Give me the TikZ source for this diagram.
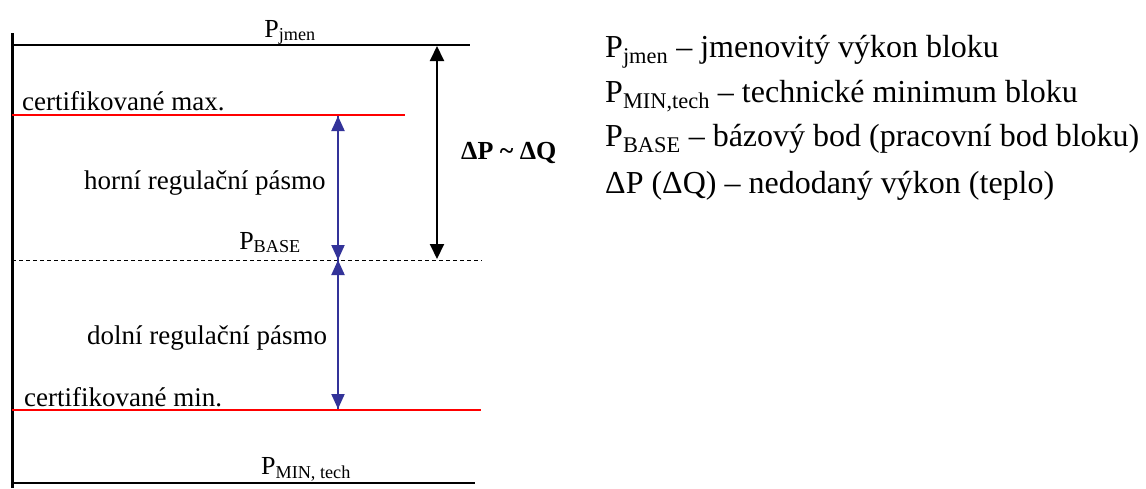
\documentclass[tikz,border=0pt]{standalone}
\usepackage{fontspec}
\setmainfont{Liberation Serif}
\usetikzlibrary{arrows.meta}
\definecolor{arrblue}{RGB}{51,51,153}
\begin{document}
\begin{tikzpicture}[x=1pt,y=-1pt,
  lbl/.style={inner sep=0pt,font=\fontsize{27}{31}\selectfont},
  plbl/.style={inner sep=0pt,anchor=base,font=\fontsize{26}{30}\selectfont},
  leg/.style={inner sep=0pt,anchor=base west,font=\fontsize{32}{36}\selectfont},
  blackline/.style={line width=2pt,black},
  redline/.style={line width=2pt,red},
  baseline/.style={line width=0.8pt,dash pattern=on 4pt off 3pt},
  bluearr/.style={line width=2pt,arrblue,-{Triangle[length=15pt,width=13pt]}},
  blackarr/.style={line width=2pt,black,{Triangle[length=15pt,width=14pt]}-{Triangle[length=15pt,width=14pt]}}]
\useasboundingbox (0,0) rectangle (1146,488);
% reference coordinates
\coordinate (axT) at (12,33);
\coordinate (axB) at (12,488);
\coordinate (topL) at (12,45);   \coordinate (topR) at (470,45);
\coordinate (maxL) at (12,115);  \coordinate (maxR) at (405,115);
\coordinate (basL) at (12,260);  \coordinate (basR) at (482,260);
\coordinate (minL) at (12,410);  \coordinate (minR) at (481,410);
\coordinate (botL) at (12,483);  \coordinate (botR) at (475,483);
\coordinate (bMax) at (338,116);
\coordinate (bBase) at (338,260);
\coordinate (bMin) at (338,409);
\coordinate (kTop) at (437,46);
\coordinate (kBase) at (437,259);
% lines
\draw[line width=3pt] (axT) -- (axB);
\draw[blackline] (topL) -- (topR);
\draw[blackline] (botL) -- (botR);
\draw[redline] (maxL) -- (maxR);
\draw[redline] (minL) -- (minR);
\draw[baseline] (basL) -- (basR);
% arrows
\draw[bluearr] (bBase) -- (bMax);
\draw[bluearr] (bMax) -- (bBase);
\draw[bluearr] (bBase) -- (bMin);
\draw[bluearr] (bMin) -- (bBase);
\draw[blackarr] (kTop) -- (kBase);
% labels
\node[plbl] (pjmen) at (290,37) {P\textsubscript{jmen}};
\node[lbl,anchor=base west] (cmax) at (22,110) {certifikované max.};
\node[lbl,anchor=base west] (horni) at (84,189) {horní regulační pásmo};
\node[plbl] (pbase) at (270,249) {P\textsubscript{BASE}};
\node[lbl,anchor=base west] (dolni) at (87,344) {dolní regulační pásmo};
\node[lbl,anchor=base west] (cmin) at (24,406) {certifikované min.};
\node[plbl] (pmin) at (306,474) {P\textsubscript{MIN, tech}};
\node[inner sep=0pt,anchor=base west,font=\fontsize{26}{30}\selectfont\bfseries] (dpq) at (461,159) {ΔP \textasciitilde\ ΔQ};
% legend
\node[leg] (l1) at (605,57) {P\textsubscript{jmen} – jmenovitý výkon bloku};
\node[leg] (l2) at (605,102) {P\textsubscript{MIN,tech} – technické minimum bloku};
\node[leg] (l3) at (605,146) {P\textsubscript{BASE} – bázový bod (pracovní bod bloku)};
\node[leg] (l4) at (605,193) {ΔP (ΔQ) – nedodaný výkon (teplo)};
\end{tikzpicture}
\end{document}
